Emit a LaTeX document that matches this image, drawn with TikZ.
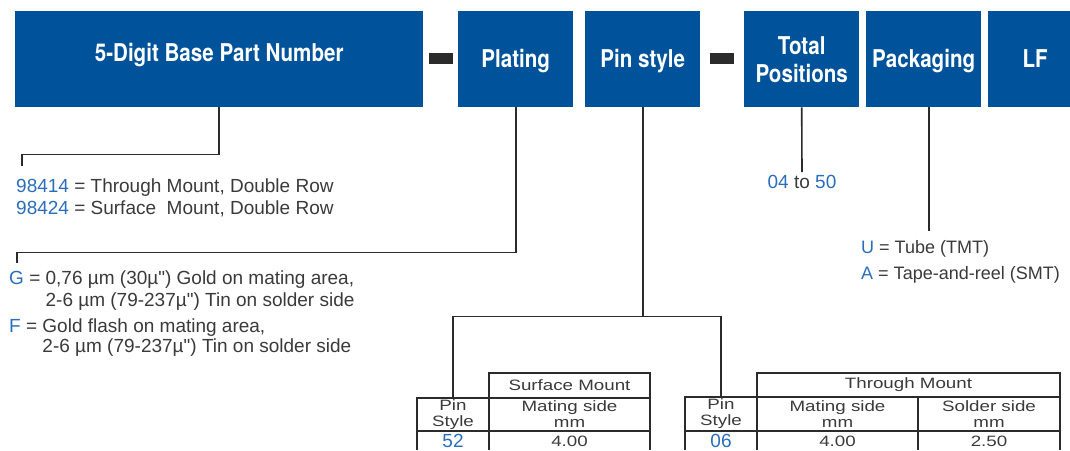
\documentclass[tikz,border=0pt]{standalone}
\usepackage{fontspec}
\setmainfont{Liberation Sans}
\newfontfamily\fieldfont[FakeStretch=0.84]{TeX Gyre Heros}
\newfontfamily\cellfont[FakeStretch=1.25]{Liberation Sans}
\usepackage{tikz}
\usetikzlibrary{positioning}
\definecolor{pnblue}{HTML}{00539B}
\definecolor{codeblue}{HTML}{2A6EBB}
\definecolor{textgray}{HTML}{3A3A3A}
\definecolor{leadgray}{HTML}{2B2B2B}
\newcommand{\pncode}[1]{\textcolor{codeblue}{#1}}
\newcommand{\uinch}{µ\textquotedbl}
\tikzset{
  field/.style={fill=pnblue,text=white,anchor=north west,inner sep=0pt,align=center,minimum height=96pt,font=\fieldfont\bfseries\fontsize{24.5}{28}\selectfont},
  hyphen/.style={fill=leadgray,anchor=north west,inner sep=0pt,minimum width=24pt,minimum height=11pt},
  lead/.style={draw=leadgray,line width=1.6pt},
  legend/.style={text=textgray,anchor=west,inner sep=0pt,align=left,font=\fontsize{19}{22}\selectfont},
  grid/.style={draw=leadgray,line width=1.3pt},
  cell/.style={text=textgray,inner sep=0pt,align=center,font=\cellfont\fontsize{15}{16}\selectfont}
}

\begin{document}
\begin{tikzpicture}[x=1pt,y=-1pt]
            \useasboundingbox (0,0) rectangle (1070,450);
            % Code fields
            \node[field,minimum width=408pt,text height=17pt,text depth=12pt] (base) at (15,11) {5-Digit Base Part Number};
            \node[hyphen] (dashA) at (428.5,53) {};
            \node[field,minimum width=115pt,text height=17pt,text depth=0pt] (plating) at (458,11) {Plating};
            \node[field,minimum width=115pt,text height=17pt,text depth=0pt] (pin) at (585,11) {Pin style};
            \node[hyphen] (dashB) at (710,53) {};
            \node[field,minimum width=115pt] (total) at (744,11) {Total\\Positions};
            \node[field,minimum width=115pt,text height=17pt,text depth=0pt] (pack) at (866,11) {Packaging};
            \node[field,minimum width=82pt,text height=17pt,text depth=0pt] (lf) at (988,11) {\hspace*{12pt}LF};
            % Code values
            \node[legend] (baseCodes) at (16,198) {\pncode{98414} = Through Mount, Double Row\\\pncode{98424} = Surface\ \ Mount, Double Row};
            \node[legend] (goldCode) at (9,291) {\begin{tabular}{@{}l@{\ }l@{\ }l@{}}\pncode{G} & = & 0,76 µm (30\uinch) Gold on mating area,\\ & & 2-6 µm (79-237\uinch) Tin on solder side\end{tabular}};
            \node[legend,font=\fontsize{19}{20}\selectfont] (flashCode) at (9,338) {\begin{tabular}{@{}l@{\ }l@{\ }l@{}}\pncode{F} & = & Gold flash on mating area,\\ & & 2-6 µm (79-237\uinch) Tin on solder side\end{tabular}};
            \node[legend,anchor=north] (range) at (802,175) {\pncode{04} to \pncode{50}};
            \node[legend,font=\fontsize{18}{26}\selectfont] (packCodes) at (861,262) {\pncode{U} = Tube (TMT)\\\pncode{A} = Tape-and-reel (SMT)};
            % Pin style tables
            \draw[grid](489,450)--(489,373)--(650,373)--(650,450);
            \draw[grid](417,450)--(417,398)--(650,398);
            \draw[grid](417,431)--(650,431);
            \draw[grid](757,450)--(757,373)--(1060,373)--(1060,450);
            \draw[grid](685,450)--(685,397)--(1060,397);
            \draw[grid](685,431)--(1060,431);
            \draw[grid](918,397)--(918,450);
            \node[cell] (smHead) at (569.5,385.5) {Surface Mount};
            \node[cell,minimum width=72pt,minimum height=33pt] (smPin) at (453,414.5) {Pin\\Style};
            \node[cell] (smMating) at (569.5,414) {Mating side\\mm};
            \node[cell,text=codeblue,font=\fontsize{19}{20}\selectfont] (smCode) at (453,441) {52};
            \node[cell] (smMatingVal) at (569.5,441) {4.00};
            \node[cell] (thHead) at (908.5,385) {Through Mount};
            \node[cell,minimum width=72pt,minimum height=34pt] (thPin) at (721,414) {Pin\\Style};
            \node[cell] (thMating) at (837.5,414) {Mating side\\mm};
            \node[cell] (thSolder) at (989,414) {Solder side\\mm};
            \node[cell,text=codeblue,font=\fontsize{19}{20}\selectfont] (thCode) at (721,441) {06};
            \node[cell] (thMatingVal) at (837.5,441) {4.00};
            \node[cell] (thSolderVal) at (989,441) {2.50};
            % Leads
            \coordinate (baseTick) at (22,166);
            \coordinate (platingTick) at (17,263);
            \draw[lead](base.south)--++(0,47)-|(baseTick);
            \draw[lead](plating.south)--++(0,145)-|(platingTick);
            \draw[lead](pin.south)--++(0,209)coordinate(pinFork);
            \draw[lead](smPin.north)|-(pinFork)-|(thPin.north);
            \draw[lead](total.south)--([yshift=3pt]range.north);
            \draw[lead]([xshift=5.5pt]pack.south)--++(0,124);
\end{tikzpicture}
\end{document}
